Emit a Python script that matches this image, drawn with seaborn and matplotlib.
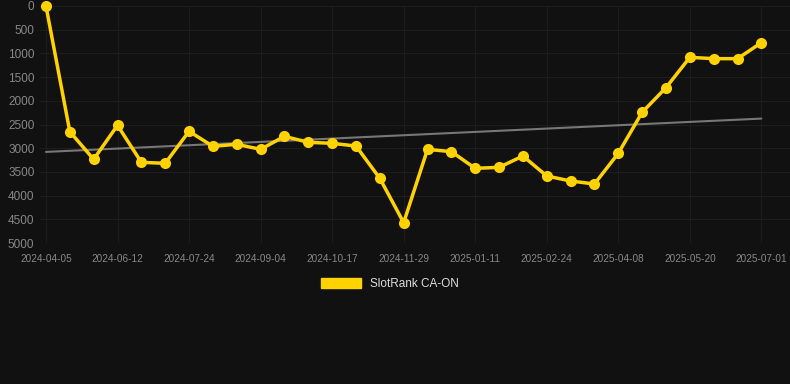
import numpy as np
import pandas as pd
import seaborn as sns
import matplotlib.pyplot as plt
from matplotlib.patches import Patch

# datos
# -----------------------------------------------------------------------
rank = [0, 2650, 3235, 2517, 3298, 3319, 2644, 2960, 2918, 3024,
        2750, 2876, 2897, 2954, 3636, 4571, 3024, 3073, 3425, 3404,
        3165, 3586, 3692, 3755, 3108, 2243, 1723, 1083, 1111, 1111, 774]
tick_labels = ["2024-04-05", "2024-06-12", "2024-07-24", "2024-09-04",
               "2024-10-17", "2024-11-29", "2025-01-11", "2025-02-24",
               "2025-04-08", "2025-05-20", "2025-07-01"]
serie = "SlotRank CA-ON"

df = pd.DataFrame({"idx": np.arange(len(rank)), "rank": rank})

bg = "#111111"
gold = "#FFD200"

sns.set_style("dark")
plt.rcParams["font.family"] = ["Liberation Sans", "DejaVu Sans"]

fig = plt.figure(figsize=(7.9, 3.84), dpi=100, facecolor=bg)
ax = fig.add_axes([40 / 790, 1 - 243 / 384, 750 / 790, 237 / 384])
ax.set_facecolor(bg)

# tendencia lineal
coef = np.polyfit(df["idx"], df["rank"], 1)
ax.plot(df["idx"], np.polyval(coef, df["idx"]), color="#777777", lw=1.5, zorder=2)

sns.lineplot(data=df, x="idx", y="rank", ax=ax, color=gold, lw=2.5,
             marker="o", markersize=8, markeredgewidth=0, zorder=3, clip_on=False)

ax.set_xlim(-0.25, 31.2)
ax.set_ylim(5000, 0)
ax.set_yticks(np.arange(0, 5001, 500))
ax.set_xticks(np.arange(0, len(rank), 3))
ax.set_xticklabels(tick_labels)
ax.set_xlabel("")
ax.set_ylabel("")
ax.tick_params(axis="y", colors="#888888", labelsize=8.5, length=0, pad=4)
ax.tick_params(axis="x", colors="#888888", labelsize=7.2, length=0, pad=8)
ax.grid(True, color="#1d1d1d", lw=0.8)
ax.axhline(5000, color="#2a2a2a", lw=0.8, zorder=1)
for s in ax.spines.values():
    s.set_visible(False)

fig.legend(handles=[Patch(color=gold, label=serie)], loc="center",
           bbox_to_anchor=(390 / 790, 1 - 284 / 384), frameon=False,
           labelcolor="#dddddd", fontsize=8.5, handlelength=3.4, handleheight=1.0)

fig.savefig("out.png", dpi=100, facecolor=bg)
